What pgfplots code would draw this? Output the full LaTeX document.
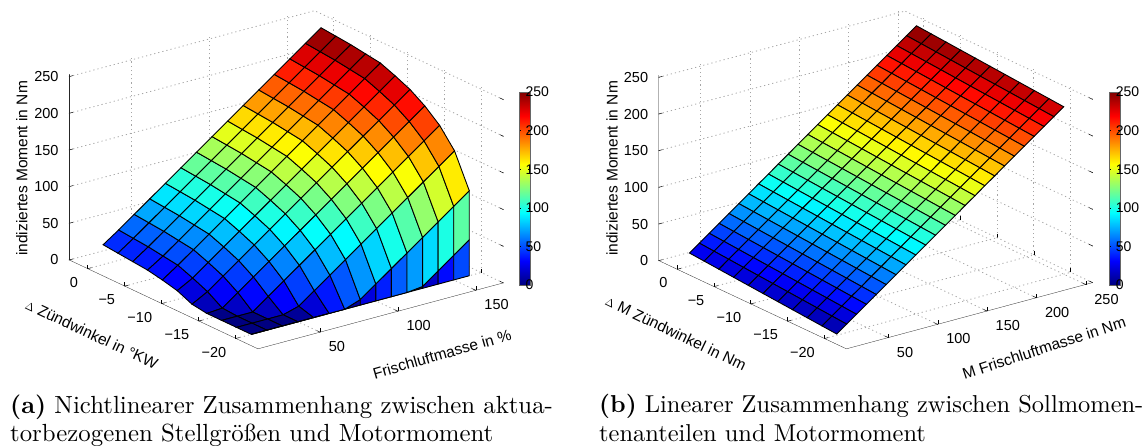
\documentclass[border=0pt]{standalone}
\usepackage{fontspec}
\usepackage{pgfplots}
\pgfplotsset{compat=1.18}
\newfontfamily\lab{Liberation Sans}
\newcommand\capt[1]{\scalebox{2.48}{\fontsize{10}{12}\selectfont #1}}
\newcommand\captb[1]{\scalebox{2.445}{\fontsize{10}{12}\selectfont #1}}
\pgfplotsset{
  colormap={myjet}{rgb255=(0,0,128) rgb255=(0,0,255) rgb255=(0,128,255) rgb255=(0,255,255) rgb255=(128,255,128) rgb255=(255,255,0) rgb255=(255,128,0) rgb255=(255,0,0) rgb255=(128,0,0)},
  common/.style={
    axis line style={draw=none},
    grid=major,
    grid style={dash pattern=on 1.2pt off 3pt,gray!70,line width=0.8pt},
    tick style={black,line width=0.5pt},
    major tick length=4pt,
    tick align=inside,
    tick pos=left,
    tick label style={font=\lab\fontsize{14.5}{15}\selectfont},
    xticklabel style={anchor=west,xshift=5pt,yshift=-14.5pt},
    yticklabel style={anchor=east,xshift=-6pt,yshift=-13.5pt},
    zticklabel style={anchor=east,xshift=-7pt},
    label style={font=\lab\fontsize{15.5}{15.5}\selectfont,anchor=center},
    point meta min=0,point meta max=250,
    colormap name=myjet,
    ymin=-23,ymax=2.5,zmin=0,zmax=253,
    ytick={-20,-15,-10,-5,0},
    yticklabels={−20,−15,−10,−5,0},
    ztick={0,50,100,150,200,250},
    zticklabels={0,50,100,150,200,250},
    zlabel={indiziertes Moment in Nm},
    z={(0pt,0.7333pt)},
    colorbar,
  },
  cbar/.style={
    at={(parent axis.south west)},anchor=south west,yshift=64pt,
    width=10.9pt,height=193pt,
    ytick={0,50,100,150,200,250},
    yticklabels={0,50,100,150,200,250},
    yticklabel pos=right,
    tick align=inside,
    major tick length=2pt,
    yticklabel style={font=\lab\fontsize{14}{14}\selectfont,xshift=-8pt},
    axis line style={draw=black!60,line width=0.5pt},
  },
}
\begin{document}
\begin{tikzpicture}[x=1pt,y=1pt]
\path[use as bounding box] (0,0) rectangle (1144,445);
\begin{axis}[common,
  at={(69pt,96pt)},anchor=south west,
  x={(1.557pt,0.4185pt)},y={(-7.41pt,3.49pt)},
  xmin=10,xmax=167.7,
  xtick={50,100,150},xticklabels={50,100,150},
  xlabel={Frischluftmasse in \%},
  ylabel={$\scriptstyle\Delta$ Zündwinkel in °KW},
  xlabel style={at={(rel axis cs:0.4496,-0.39,0)},rotate=16},
  ylabel style={at={(rel axis cs:-0.348,0.427,0)},rotate=-25},
  zlabel style={at={(rel axis cs:-0.192,1,0.562)},rotate=0},
  colorbar style={cbar,xshift=441.7pt},
]
\addplot3[surf,shader=flat corner,draw=black,line width=0.9pt,z buffer=sort,mesh/cols=15,mesh/ordering=x varies,point meta=z] coordinates {
(160,0,243)(150,0,227.5)(140,0,212)(130,0,196.5)(120,0,181)(110,0,165.5)(100,0,150)(90,0,134.5)(80,0,119)(70,0,103.5)(60,0,88)(50,0,72.5)(40,0,57)(30,0,41.5)(20,0,27)
(160,-2,241)(150,-2,225.5)(140,-2,210)(130,-2,194.5)(120,-2,179)(110,-2,163.5)(100,-2,148)(90,-2,132.5)(80,-2,117)(70,-2,101.5)(60,-2,86)(50,-2,70.5)(40,-2,55)(30,-2,39.5)(20,-2,25)
(160,-4,239)(150,-4,223.5)(140,-4,208)(130,-4,192.5)(120,-4,177)(110,-4,161.5)(100,-4,146)(90,-4,130.5)(80,-4,115)(70,-4,99.5)(60,-4,84)(50,-4,68.5)(40,-4,53)(30,-4,37.5)(20,-4,23)
(160,-6,236)(150,-6,220.5)(140,-6,205)(130,-6,189.5)(120,-6,174)(110,-6,158.5)(100,-6,143)(90,-6,127.5)(80,-6,112)(70,-6,96.5)(60,-6,81)(50,-6,65.5)(40,-6,50)(30,-6,34.5)(20,-6,21)
(160,-8,233)(150,-8,217.5)(140,-8,202)(130,-8,186.5)(120,-8,171)(110,-8,155.5)(100,-8,140)(90,-8,124.5)(80,-8,109)(70,-8,93.5)(60,-8,78)(50,-8,62.5)(40,-8,47)(30,-8,31.5)(20,-8,17)
(160,-10,225)(150,-10,209.5)(140,-10,194)(130,-10,178.5)(120,-10,163)(110,-10,147.5)(100,-10,132)(90,-10,116.5)(80,-10,101)(70,-10,85.5)(60,-10,70)(50,-10,54.5)(40,-10,39)(30,-10,23.5)(20,-10,12)
(160,-12,216)(150,-12,200.5)(140,-12,185)(130,-12,169.5)(120,-12,154)(110,-12,138.5)(100,-12,123)(90,-12,107.5)(80,-12,92)(70,-12,76.5)(60,-12,61)(50,-12,45.5)(40,-12,30)(30,-12,14.5)(20,-12,3)
(160,-14,203)(150,-14,187.5)(140,-14,172)(130,-14,156.5)(120,-14,141)(110,-14,125.5)(100,-14,110)(90,-14,94.5)(80,-14,79)(70,-14,63.5)(60,-14,48)(50,-14,32.5)(40,-14,17)(30,-14,1.5)(20,-14,0)
(160,-16,186)(150,-16,170.5)(140,-16,155)(130,-16,139.5)(120,-16,124)(110,-16,108.5)(100,-16,93)(90,-16,77.5)(80,-16,62)(70,-16,46.5)(60,-16,31)(50,-16,15.5)(40,-16,0)(30,-16,0)(20,-16,0)
(160,-18,161)(150,-18,145.5)(140,-18,130)(130,-18,114.5)(120,-18,99)(110,-18,83.5)(100,-18,68)(90,-18,52.5)(80,-18,37)(70,-18,21.5)(60,-18,6)(50,-18,0)(40,-18,0)(30,-18,0)(20,-18,0)
(160,-20,116)(150,-20,100.5)(140,-20,85)(130,-20,69.5)(120,-20,54)(110,-20,38.5)(100,-20,23)(90,-20,7.5)(80,-20,0)(70,-20,0)(60,-20,0)(50,-20,0)(40,-20,0)(30,-20,0)(20,-20,0)
(160,-20,49)(150,-20,33.5)(140,-20,18)(130,-20,2.5)(120,-20,0)(110,-20,0)(100,-20,0)(90,-20,0)(80,-20,0)(70,-20,0)(60,-20,0)(50,-20,0)(40,-20,0)(30,-20,0)(20,-20,0)
(160,-20,0)(150,-20,0)(140,-20,0)(130,-20,0)(120,-20,0)(110,-20,0)(100,-20,0)(90,-20,0)(80,-20,0)(70,-20,0)(60,-20,0)(50,-20,0)(40,-20,0)(30,-20,0)(20,-20,0)
};
\draw[black!85,line width=0.6pt] (axis cs:10,2.5,0)--(axis cs:10,-23,0)--(axis cs:167.7,-23,0);
\draw[black!85,line width=0.6pt] (axis cs:10,2.5,0)--(axis cs:10,2.5,253);
\end{axis}
\begin{axis}[common,
  at={(658.6pt,96pt)},anchor=south west,
  x={(0.987pt,0.2656pt)},y={(-7.365pt,3.463pt)},
  xmin=7.4,xmax=257,
  xtick={50,100,150,200,250},xticklabels={50,100,150,200,250},
  xlabel={M Frischluftmasse in Nm},
  ylabel={$\scriptstyle\Delta$ M Zündwinkel in Nm},
  xlabel style={at={(rel axis cs:0.5156,-0.376,0)},rotate=18},
  ylabel style={at={(rel axis cs:-0.352,0.445,0)},rotate=-25.6},
  zlabel style={at={(rel axis cs:-0.189,1,0.565)},rotate=0},
  colorbar style={cbar,xshift=442.2pt},
]
\addplot3[surf,shader=flat corner,draw=black,line width=0.9pt,z buffer=sort,mesh/cols=24,mesh/ordering=x varies,point meta=z] coordinates {
(250,0,244.3)(240,0,234.4)(230,0,224.6)(220,0,214.7)(210,0,204.9)(200,0,195)(190,0,185.2)(180,0,175.3)(170,0,165.5)(160,0,155.6)(150,0,145.8)(140,0,135.9)(130,0,126.1)(120,0,116.2)(110,0,106.4)(100,0,96.5)(90,0,86.7)(80,0,76.8)(70,0,67)(60,0,57.1)(50,0,47.3)(40,0,37.4)(30,0,27.6)(20,0,17.7)
(250,-2,242.7)(240,-2,232.8)(230,-2,223)(220,-2,213.1)(210,-2,203.3)(200,-2,193.4)(190,-2,183.6)(180,-2,173.7)(170,-2,163.9)(160,-2,154)(150,-2,144.2)(140,-2,134.3)(130,-2,124.5)(120,-2,114.6)(110,-2,104.8)(100,-2,94.9)(90,-2,85.1)(80,-2,75.2)(70,-2,65.4)(60,-2,55.5)(50,-2,45.7)(40,-2,35.8)(30,-2,26)(20,-2,16.1)
(250,-4,241.1)(240,-4,231.2)(230,-4,221.4)(220,-4,211.5)(210,-4,201.7)(200,-4,191.8)(190,-4,182)(180,-4,172.1)(170,-4,162.3)(160,-4,152.4)(150,-4,142.6)(140,-4,132.7)(130,-4,122.9)(120,-4,113)(110,-4,103.2)(100,-4,93.3)(90,-4,83.5)(80,-4,73.6)(70,-4,63.8)(60,-4,53.9)(50,-4,44.1)(40,-4,34.2)(30,-4,24.4)(20,-4,14.5)
(250,-6,239.5)(240,-6,229.6)(230,-6,219.8)(220,-6,209.9)(210,-6,200.1)(200,-6,190.2)(190,-6,180.4)(180,-6,170.5)(170,-6,160.7)(160,-6,150.8)(150,-6,141)(140,-6,131.1)(130,-6,121.3)(120,-6,111.4)(110,-6,101.6)(100,-6,91.7)(90,-6,81.9)(80,-6,72)(70,-6,62.2)(60,-6,52.3)(50,-6,42.5)(40,-6,32.6)(30,-6,22.8)(20,-6,12.9)
(250,-8,237.9)(240,-8,228)(230,-8,218.2)(220,-8,208.3)(210,-8,198.5)(200,-8,188.6)(190,-8,178.8)(180,-8,168.9)(170,-8,159.1)(160,-8,149.2)(150,-8,139.4)(140,-8,129.5)(130,-8,119.7)(120,-8,109.8)(110,-8,100)(100,-8,90.1)(90,-8,80.3)(80,-8,70.4)(70,-8,60.6)(60,-8,50.7)(50,-8,40.9)(40,-8,31)(30,-8,21.2)(20,-8,11.3)
(250,-10,236.3)(240,-10,226.4)(230,-10,216.6)(220,-10,206.7)(210,-10,196.9)(200,-10,187)(190,-10,177.2)(180,-10,167.3)(170,-10,157.5)(160,-10,147.6)(150,-10,137.8)(140,-10,127.9)(130,-10,118.1)(120,-10,108.2)(110,-10,98.4)(100,-10,88.5)(90,-10,78.7)(80,-10,68.8)(70,-10,59)(60,-10,49.1)(50,-10,39.3)(40,-10,29.4)(30,-10,19.6)(20,-10,9.7)
(250,-12,234.7)(240,-12,224.8)(230,-12,215)(220,-12,205.1)(210,-12,195.3)(200,-12,185.4)(190,-12,175.6)(180,-12,165.7)(170,-12,155.9)(160,-12,146)(150,-12,136.2)(140,-12,126.3)(130,-12,116.5)(120,-12,106.6)(110,-12,96.8)(100,-12,86.9)(90,-12,77.1)(80,-12,67.2)(70,-12,57.4)(60,-12,47.5)(50,-12,37.7)(40,-12,27.8)(30,-12,18)(20,-12,8.1)
(250,-14,233.1)(240,-14,223.2)(230,-14,213.4)(220,-14,203.5)(210,-14,193.7)(200,-14,183.8)(190,-14,174)(180,-14,164.1)(170,-14,154.3)(160,-14,144.4)(150,-14,134.6)(140,-14,124.7)(130,-14,114.9)(120,-14,105)(110,-14,95.2)(100,-14,85.3)(90,-14,75.5)(80,-14,65.6)(70,-14,55.8)(60,-14,45.9)(50,-14,36.1)(40,-14,26.2)(30,-14,16.4)(20,-14,6.5)
(250,-16,231.5)(240,-16,221.6)(230,-16,211.8)(220,-16,201.9)(210,-16,192.1)(200,-16,182.2)(190,-16,172.4)(180,-16,162.5)(170,-16,152.7)(160,-16,142.8)(150,-16,133)(140,-16,123.1)(130,-16,113.3)(120,-16,103.4)(110,-16,93.6)(100,-16,83.7)(90,-16,73.9)(80,-16,64)(70,-16,54.2)(60,-16,44.3)(50,-16,34.5)(40,-16,24.6)(30,-16,14.8)(20,-16,4.9)
(250,-18,229.9)(240,-18,220)(230,-18,210.2)(220,-18,200.3)(210,-18,190.5)(200,-18,180.6)(190,-18,170.8)(180,-18,160.9)(170,-18,151.1)(160,-18,141.2)(150,-18,131.4)(140,-18,121.5)(130,-18,111.7)(120,-18,101.8)(110,-18,92)(100,-18,82.1)(90,-18,72.3)(80,-18,62.4)(70,-18,52.6)(60,-18,42.7)(50,-18,32.9)(40,-18,23)(30,-18,13.2)(20,-18,3.3)
(250,-20,228.3)(240,-20,218.4)(230,-20,208.6)(220,-20,198.7)(210,-20,188.9)(200,-20,179)(190,-20,169.2)(180,-20,159.3)(170,-20,149.5)(160,-20,139.6)(150,-20,129.8)(140,-20,119.9)(130,-20,110.1)(120,-20,100.2)(110,-20,90.4)(100,-20,80.5)(90,-20,70.7)(80,-20,60.8)(70,-20,51)(60,-20,41.1)(50,-20,31.3)(40,-20,21.4)(30,-20,11.6)(20,-20,1.7)
};
\draw[black!85,line width=0.6pt] (axis cs:7.4,2.5,0)--(axis cs:7.4,-23,0)--(axis cs:257,-23,0);
\draw[black!85,line width=0.6pt] (axis cs:7.4,2.5,0)--(axis cs:7.4,2.5,253);
\end{axis}
\node[anchor=base west,inner sep=0pt] at (10,32) {\capt{\textbf{(a)} Nichtlinearer Zusammenhang zwischen aktua-}};
\node[anchor=base west,inner sep=0pt] at (10,4) {\capt{torbezogenen Stellgrößen und Motormoment}};
\node[anchor=base west,inner sep=0pt] at (599,32) {\captb{\textbf{(b)} Linearer Zusammenhang zwischen Sollmomen-}};
\node[anchor=base west,inner sep=0pt] at (599,4) {\captb{tenanteilen und Motormoment}};
\end{tikzpicture}
\end{document}
